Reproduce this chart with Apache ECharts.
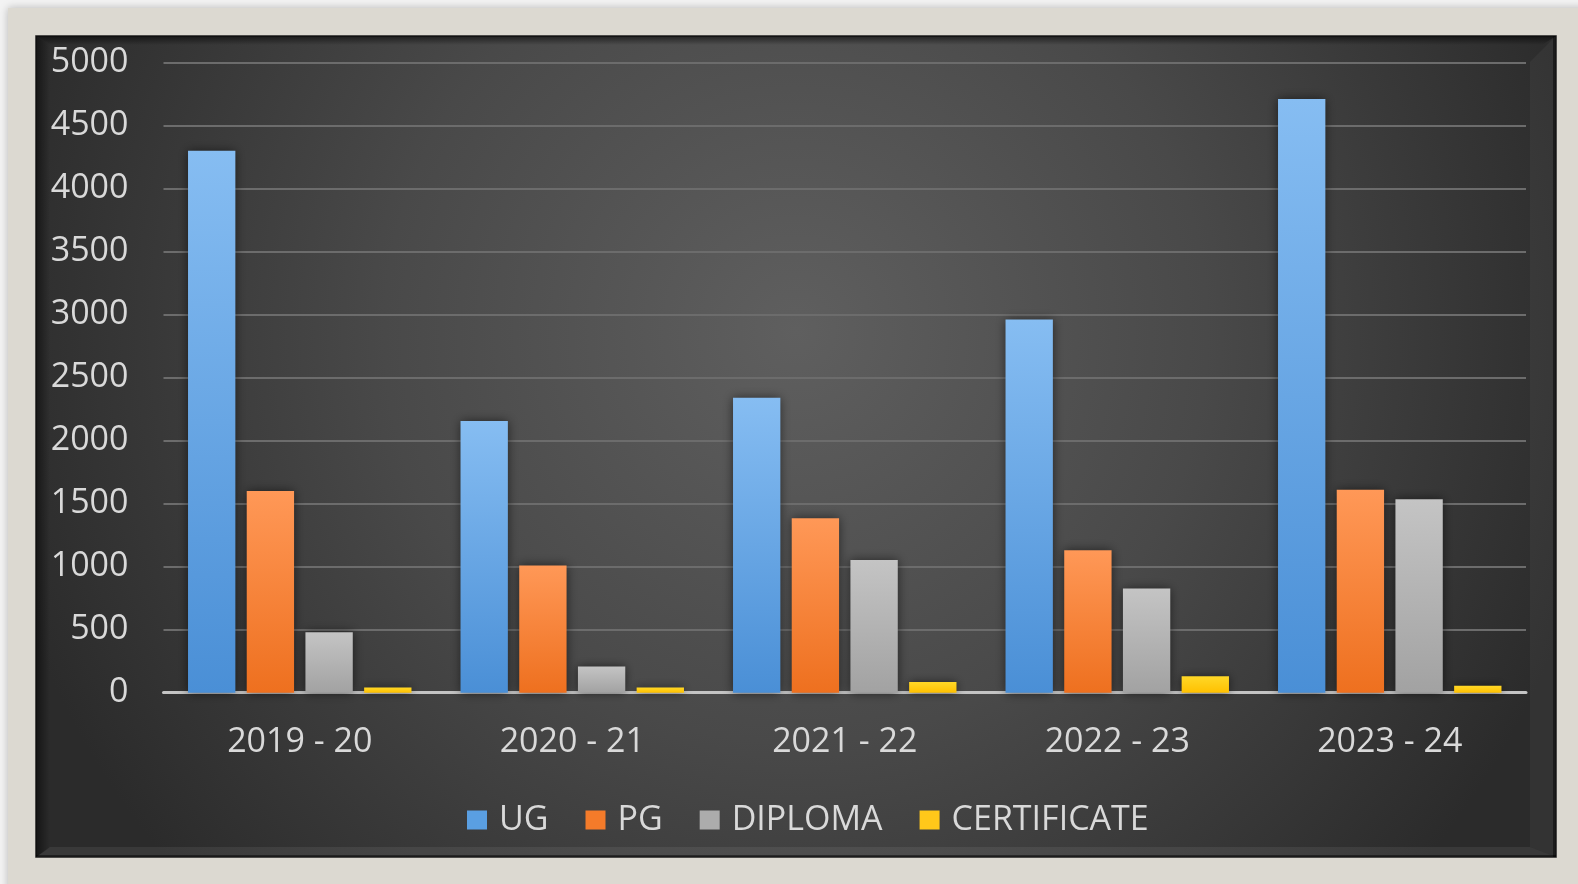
<!DOCTYPE html>
<html>
<head>
<meta charset="utf-8">
<script src="https://cdn.jsdelivr.net/npm/echarts@6/dist/echarts.min.js"></script>
<style>
html,body{margin:0;padding:0;background:#f3f3f3;}
#chart{width:1578px;height:884px;}
</style>
</head>
<body>
<div id="chart"></div>
<script>
const categories = ['2019 - 20', '2020 - 21', '2021 - 22', '2022 - 23', '2023 - 24'];
const seriesNames = ['UG', 'PG', 'DIPLOMA', 'CERTIFICATE'];
const ug = [4300, 2155, 2340, 2960, 4710];
const pg = [1600, 1010, 1385, 1130, 1610];
const diploma = [480, 208, 1053, 826, 1535];
const certificate = [42, 42, 85, 130, 55];
const yMin = 0, yMax = 5000, yStep = 500;

const FONT = '"Open Sans", "Noto Sans", sans-serif';
const TXT = '#d9d9d9';

function vgrad(top, bottom) {
  return new echarts.graphic.LinearGradient(0, 0, 0, 1, [
    {offset: 0, color: top}, {offset: 1, color: bottom}
  ]);
}
const barStyles = [
  {grad: vgrad('#86bdf2', '#4a8fd6'), flat: '#5a9fe2'},
  {grad: vgrad('#ff9857', '#ee701f'), flat: '#f47b2a'},
  {grad: vgrad('#c4c4c4', '#a2a2a2'), flat: '#acacac'},
  {grad: vgrad('#ffd828', '#ffc000'), flat: '#ffc81a'}
];
const values = [ug, pg, diploma, certificate];

const chart = echarts.init(document.getElementById('chart'), null, {renderer: 'canvas'});

const PX0 = 36, PY0 = 36, PX1 = 1556, PY1 = 857;

const option = {
  backgroundColor: '#f3f3f3',
  animation: false,
  graphic: {
    z: -10,
    elements: [
      {type: 'rect', shape: {x: 8, y: 8, width: 1580, height: 890},
        style: {fill: '#dcd9d1', shadowBlur: 8, shadowColor: 'rgba(0,0,0,0.25)'}, z: -10},
      {type: 'rect', shape: {x: PX0, y: PY0, width: PX1 - PX0, height: PY1 - PY0},
        style: {
          fill: new echarts.graphic.RadialGradient(0.5, 0.36, 1.0, [
            {offset: 0, color: '#5f5f5f'},
            {offset: 0.5, color: '#494949'},
            {offset: 1, color: '#2b2b2b'}
          ]),
          stroke: '#1c1c1c', lineWidth: 1.5
        }, z: -9},
      {type: 'polygon', shape: {points: [[PX0, PY0], [PX1, PY0], [PX1 - 14, PY0 + 9], [PX0 + 14, PY0 + 9]]},
        style: {fill: new echarts.graphic.LinearGradient(0, 0, 0, 1, [
          {offset: 0, color: 'rgba(0,0,0,0.55)'}, {offset: 1, color: 'rgba(0,0,0,0)'}])}, z: -8},
      {type: 'polygon', shape: {points: [[PX0, PY0], [PX0 + 14, PY0 + 9], [PX0 + 14, PY1 - 9], [PX0, PY1]]},
        style: {fill: new echarts.graphic.LinearGradient(0, 0, 1, 0, [
          {offset: 0, color: 'rgba(0,0,0,0.5)'}, {offset: 1, color: 'rgba(0,0,0,0)'}])}, z: -8},
      {type: 'polygon', shape: {points: [[PX1, PY0], [PX1, PY1], [PX1 - 26, PY1 - 10], [PX1 - 26, PY0 + 26]]},
        style: {fill: 'rgba(255,255,255,0.04)'}, z: -8},
      {type: 'polygon', shape: {points: [[PX0, PY1], [PX1, PY1], [PX1 - 26, PY1 - 10], [PX0 + 14, PY1 - 10]]},
        style: {fill: 'rgba(255,255,255,0.07)'}, z: -8},
      {type: 'rect', shape: {x: PX1 - 3, y: PY0, width: 3, height: PY1 - PY0},
        style: {fill: 'rgba(0,0,0,0.45)'}, z: -7},
      {type: 'rect', shape: {x: PX0, y: PY1 - 2, width: PX1 - PX0, height: 2},
        style: {fill: 'rgba(0,0,0,0.45)'}, z: -7}
    ]
  },
  grid: {left: 163.5, right: 52, top: 62.5, bottom: 191.3},
  legend: {
    left: 467, top: 803, padding: 0,
    icon: 'rect', itemWidth: 20, itemHeight: 19, itemGap: 37,
    textStyle: {color: TXT, fontSize: 34, fontFamily: FONT, padding: [0, 0, 0, 7]},
    data: seriesNames.map((n, i) => ({name: n, itemStyle: {color: barStyles[i].flat}}))
  },
  xAxis: {
    type: 'category', data: categories,
    axisLine: {show: true, lineStyle: {color: '#c4c4c4', width: 3}},
    axisTick: {show: false},
    axisLabel: {color: TXT, fontSize: 34, fontFamily: FONT, margin: 33}
  },
  yAxis: {
    type: 'value', min: yMin, max: yMax, interval: yStep,
    axisLine: {show: false}, axisTick: {show: false},
    axisLabel: {color: TXT, fontSize: 34, fontFamily: FONT, margin: 35,
      formatter: (v) => String(v)},
    splitLine: {lineStyle: {color: '#6c6c6c', width: 2}}
  },
  series: seriesNames.map((n, i) => ({
    name: n, type: 'bar', data: values[i],
    barGap: '24%', barCategoryGap: '18%',
    itemStyle: {color: barStyles[i].grad, shadowBlur: 10, shadowColor: 'rgba(0,0,0,0.55)'}
  }))
};
chart.setOption(option);
</script>
</body>
</html>
